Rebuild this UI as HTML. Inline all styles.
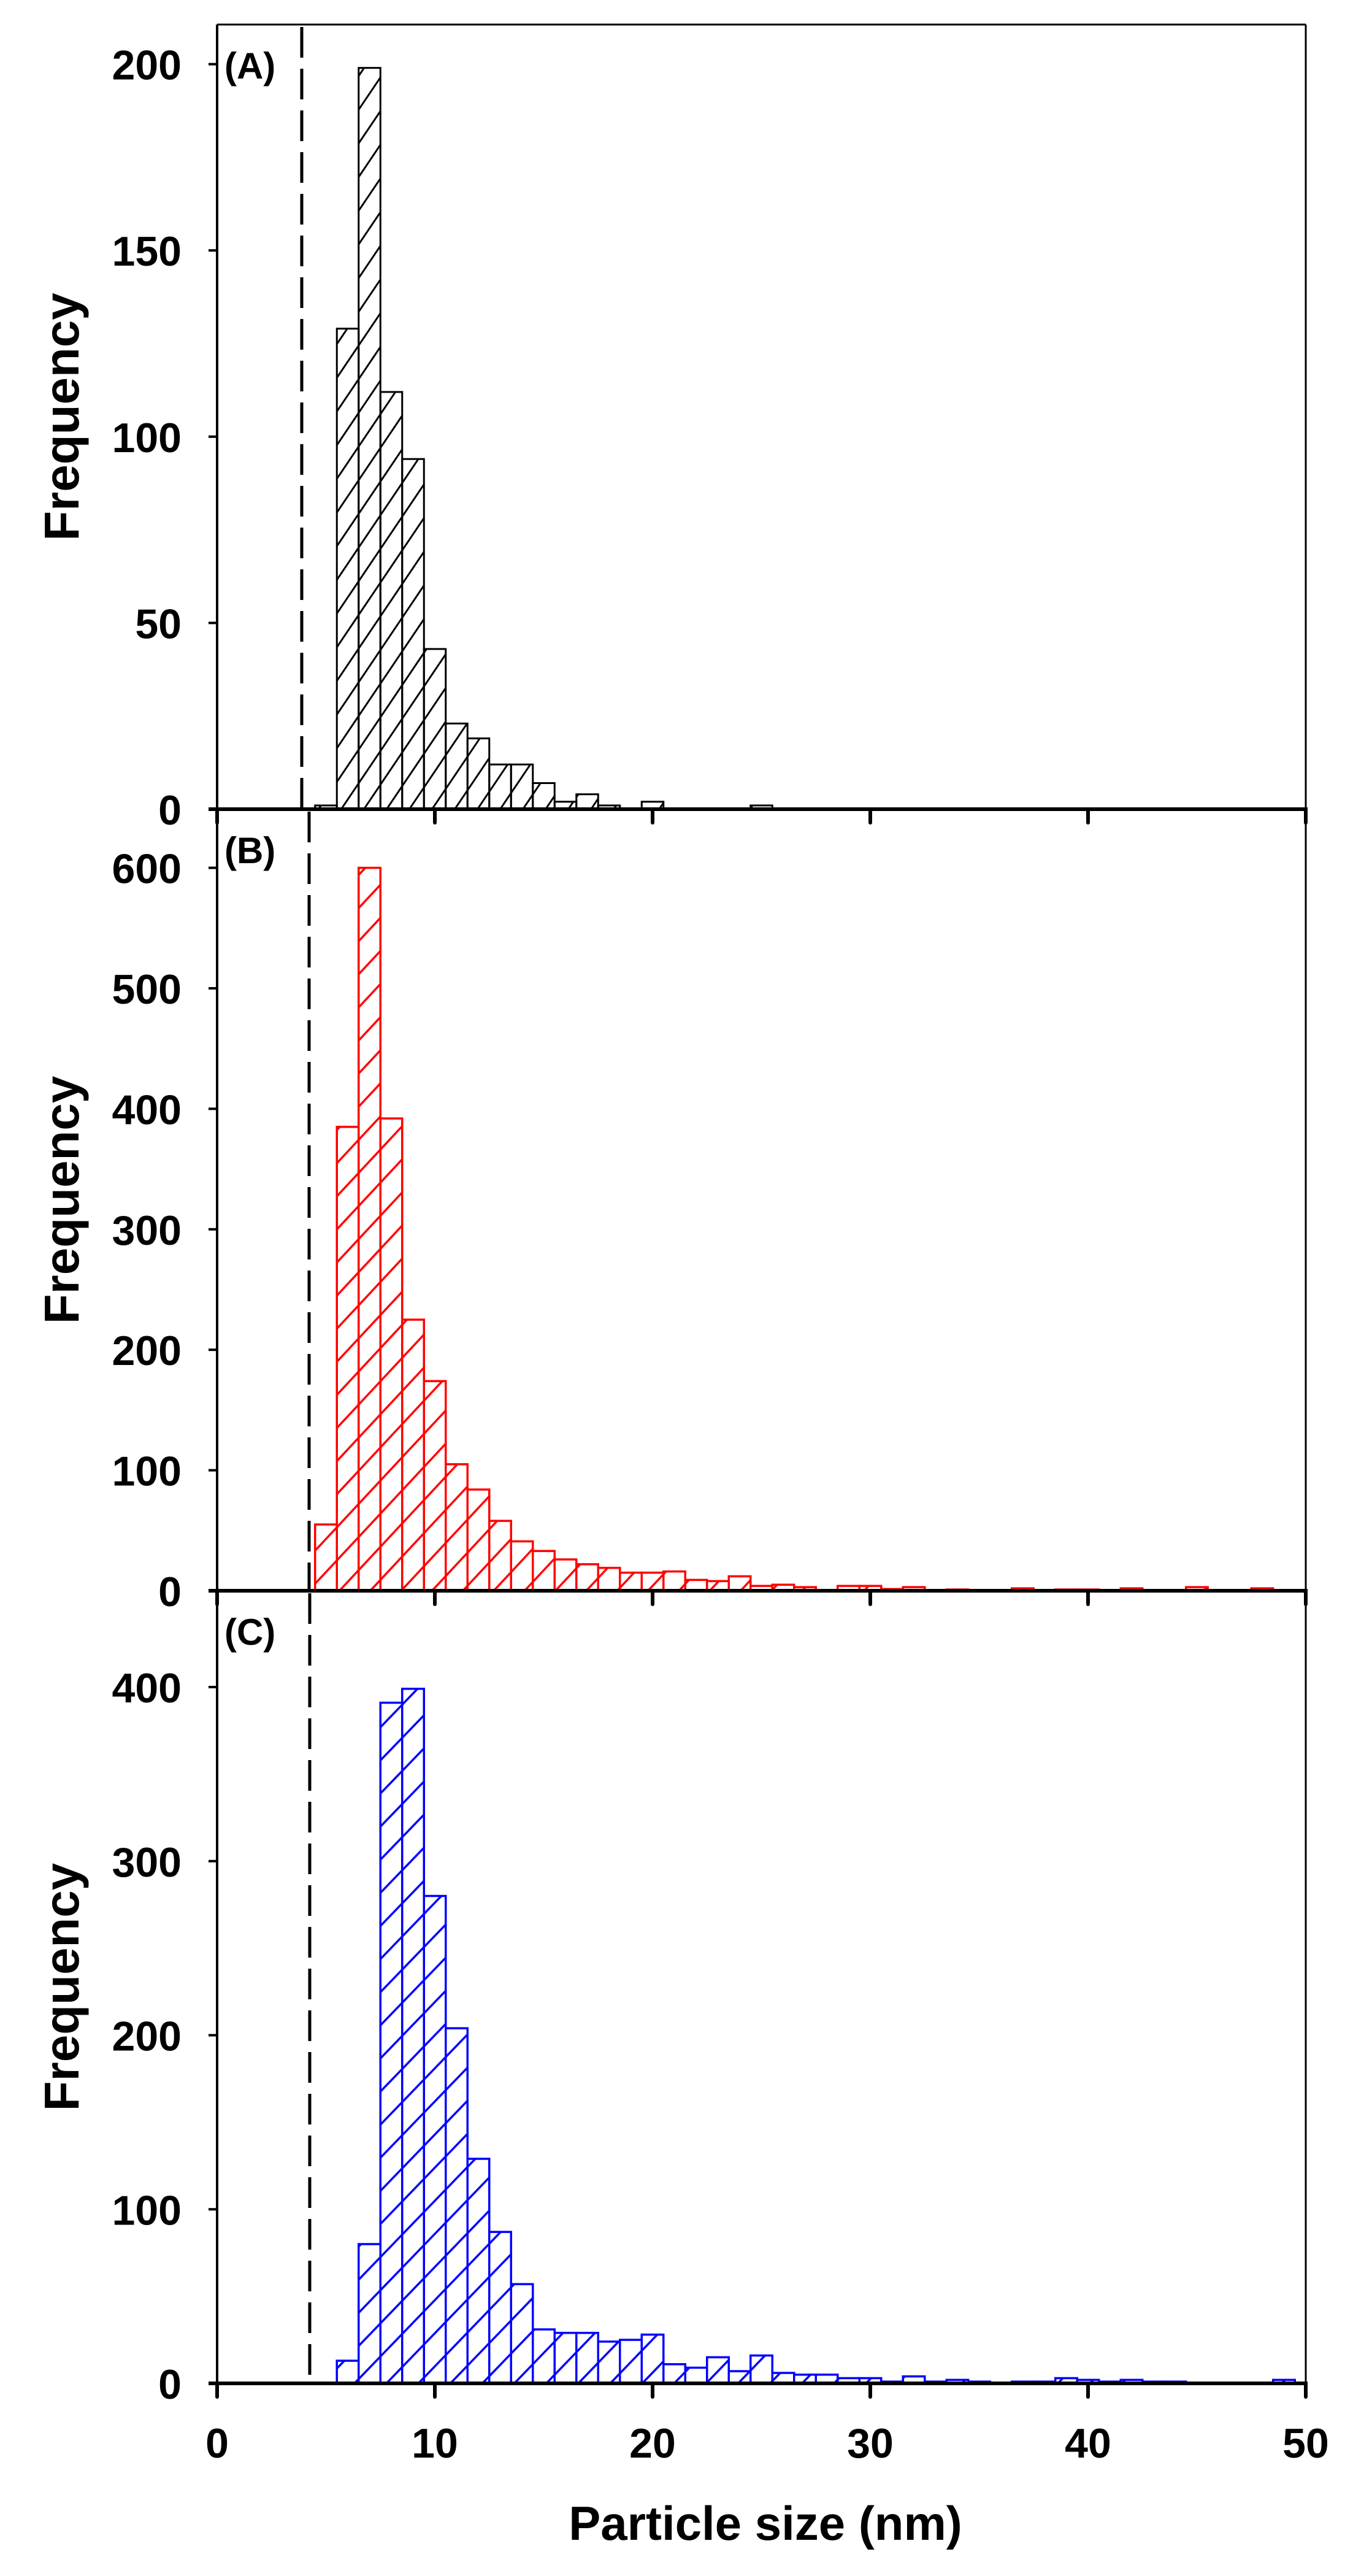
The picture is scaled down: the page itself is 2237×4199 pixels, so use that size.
<!DOCTYPE html>
<html><head><meta charset="utf-8"><style>
html,body{margin:0;padding:0;background:#fff;}
svg{display:block;}
text{font-family:"Liberation Sans",Arial,sans-serif;font-weight:bold;fill:#000;}
</style></head><body>
<svg id="s" width="2237" height="4199" viewBox="0 0 2237 4199" xmlns="http://www.w3.org/2000/svg">
<defs>
<pattern id="hA" patternUnits="userSpaceOnUse" width="200" height="30.7" patternTransform="rotate(-56)"><line x1="0" y1="1.5" x2="200" y2="1.5" stroke="#000" stroke-width="3"/></pattern>
<pattern id="hB" patternUnits="userSpaceOnUse" width="200" height="36.8" patternTransform="rotate(-47)"><line x1="0" y1="2" x2="200" y2="2" stroke="#f00" stroke-width="3.5"/></pattern>
<pattern id="hC" patternUnits="userSpaceOnUse" width="200" height="37.5" patternTransform="rotate(-46)"><line x1="0" y1="2" x2="200" y2="2" stroke="#00f" stroke-width="3.5"/></pattern>
</defs>
<g id="g"></g>
<text x="1248" y="4140" font-size="78" text-anchor="middle">Particle size (nm)</text>
</svg>
<script>
var g=document.getElementById('g');var h='';
var X0=354,XS=35.5,XR=2129;
function x(v){return X0+XS*v;}
var panels=[
 {top:40,bot:1319,per:303.6/50,ticks:[0,50,100,150,200],col:'#000',pat:'hA',dash:492,lab:'(A)',sw:3,
  d:{5:1,6:129,7:199,8:112,9:94,10:43,11:23,12:19,13:12,14:12,15:7,16:2,17:4,18:1,20:2,25:1}},
 {top:1319,bot:2593,per:196.4/100,ticks:[0,100,200,300,400,500,600],col:'#f00',pat:'hB',dash:504,lab:'(B)',sw:3.5,
  d:{5:55,6:385,7:600,8:392,9:225,10:174,11:105,12:84,13:58,14:41,15:33,16:26,17:22,18:19,19:15,20:15,21:16,22:9,23:8,24:12,25:4,26:5,27:3,29:4,30:4,31:1.4,32:3,34:1,37:2,39:1,40:1,42:2,45:3,47:0.6,48:2,49:0.6}},
 {top:2593,bot:3885,per:283.75/100,ticks:[0,100,200,300,400],col:'#00f',pat:'hC',dash:505,lab:'(C)',sw:3.5,
  d:{6:13,7:80,8:391,9:399,10:280,11:204,12:129,13:87,14:57,15:31,16:29,17:29,18:24,19:25,20:28,21:11,22:9,23:15,24:7,25:16,26:6,27:5,28:5,29:3,30:3,31:1,32:4,33:1,34:2,35:1,37:1,38:1,39:3,40:2,41:1,42:2,43:1,44:1,49:2}}
];
panels.forEach(function(p,i){
 // bars
 for(var k in p.d){var v=+k,val=p.d[k];var y=p.bot-val*p.per;var xl=x(v-0.5);
  h+='<rect x="'+xl+'" y="'+y+'" width="'+XS+'" height="'+(p.bot-y)+'" fill="url(#'+p.pat+')" stroke="'+p.col+'" stroke-width="'+p.sw+'"/>';}
 // dashed line
 h+='<line x1="'+p.dash+'" y1="'+(p.top+4)+'" x2="'+p.dash+'" y2="'+p.bot+'" stroke="#000" stroke-width="5" stroke-dasharray="50 18"/>';
 // frame
 h+='<line x1="'+X0+'" y1="'+p.top+'" x2="'+X0+'" y2="'+p.bot+'" stroke="#000" stroke-width="4"/>';
 h+='<line x1="'+XR+'" y1="'+p.top+'" x2="'+XR+'" y2="'+p.bot+'" stroke="#000" stroke-width="3"/>';
 if(i==0)h+='<line x1="'+X0+'" y1="'+p.top+'" x2="'+XR+'" y2="'+p.top+'" stroke="#000" stroke-width="3"/>';
 h+='<line x1="'+(X0-14)+'" y1="'+p.bot+'" x2="'+(XR+3)+'" y2="'+p.bot+'" stroke="#000" stroke-width="6"/>';
 for(var t=0;t<=50;t+=10){h+='<line x1="'+x(t)+'" y1="'+p.bot+'" x2="'+x(t)+'" y2="'+(p.bot+22)+'" stroke="#000" stroke-width="6" stroke-linecap="round"/>';}
 p.ticks.forEach(function(t){var y=p.bot-t*p.per;
  h+='<line x1="'+(X0-14)+'" y1="'+y+'" x2="'+X0+'" y2="'+y+'" stroke="#000" stroke-width="4"/>';
  h+='<text x="296" y="'+(y+25)+'" font-size="68" text-anchor="end">'+t+'</text>';});
 var cy=(p.top+p.bot)/2;
 h+='<text transform="translate(107,'+cy+') rotate(-90)" font-size="80" text-anchor="middle" dominant-baseline="middle">Frequency</text>';
 h+='<text x="366" y="'+(p.top+88)+'" font-size="60">'+p.lab+'</text>';
});
for(var t=0;t<=50;t+=10){h+='<text x="'+x(t)+'" y="4006" font-size="68" text-anchor="middle">'+t+'</text>';}
g.innerHTML=h;
</script>
</body></html>
